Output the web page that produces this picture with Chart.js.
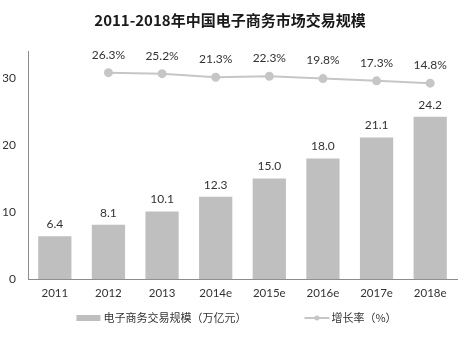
<!DOCTYPE html>
<html>
<head>
<meta charset="utf-8">
<script src="https://cdn.jsdelivr.net/npm/chart.js@4/dist/chart.umd.min.js"></script>
<style>
  html, body { margin: 0; padding: 0; background: #fff; }
  #wrap { width: 465px; height: 341px; }
</style>
</head>
<body>
<div id="wrap"><canvas id="ecChart"></canvas></div>
<script>
// Market size and growth, 2011-2018
const years = ['2011', '2012', '2013', '2014e', '2015e', '2016e', '2017e', '2018e'];
const marketSize = [6.4, 8.1, 10.1, 12.3, 15.0, 18.0, 21.1, 24.2];
const growthRate = [null, 26.3, 25.2, 21.3, 22.3, 19.8, 17.3, 14.8];
const sizeTicks = [0, 10, 20, 30];

const numFont = 'Lato, "Noto Sans CJK SC", sans-serif';
const cjkFont = '"Noto Sans CJK SC", sans-serif';

// value labels above bars and points
const valueLabels = {
    id: 'valueLabels',
    afterDatasetsDraw(chart) {
        const ctx = chart.ctx;
        ctx.save();
        ctx.font = '12px ' + numFont;
        ctx.fillStyle = '#333';
        ctx.textAlign = 'center';
        ctx.textBaseline = 'middle';
        chart.getDatasetMeta(0).data.forEach((bar, i) => {
            ctx.fillText(marketSize[i].toFixed(1), bar.x, bar.y - 12);
        });
        chart.getDatasetMeta(1).data.forEach((pt, i) => {
            if (growthRate[i] == null) return;
            ctx.fillText(growthRate[i].toFixed(1) + '%', pt.x, pt.y - 18);
        });
        ctx.restore();
    }
};

// bottom legend: grey box for bars, line with dot for growth
const bottomLegend = {
    id: 'bottomLegend',
    afterDraw(chart) {
        const ctx = chart.ctx;
        const y = 318;
        const t1 = '电子商务交易规模（万亿元）';
        const t2 = '增长率（%）';
        ctx.save();
        ctx.font = '11px ' + cjkFont;
        const w1 = 24 + 3 + ctx.measureText(t1).width;
        const w2 = 25 + 2 + ctx.measureText(t2).width;
        const gap = 58;
        let x = (chart.width - (w1 + gap + w2)) / 2 + 4;
        ctx.fillStyle = '#bfbfbf';
        ctx.fillRect(x, y - 3, 24, 6);
        ctx.fillStyle = '#333';
        ctx.textBaseline = 'middle';
        ctx.textAlign = 'left';
        ctx.fillText(t1, x + 27, y);
        x += w1 + gap;
        ctx.strokeStyle = '#c6c6c6';
        ctx.lineWidth = 2;
        ctx.beginPath();
        ctx.moveTo(x, y);
        ctx.lineTo(x + 25, y);
        ctx.stroke();
        ctx.fillStyle = '#c6c6c6';
        ctx.beginPath();
        ctx.arc(x + 12.5, y, 2.5, 0, Math.PI * 2);
        ctx.fill();
        ctx.fillStyle = '#333';
        ctx.fillText(t2, x + 27, y);
        ctx.restore();
    }
};

new Chart(document.getElementById('ecChart'), {
    data: {
        labels: years,
        datasets: [{
            type: 'bar',
            label: '电子商务交易规模（万亿元）',
            data: marketSize,
            backgroundColor: '#bfbfbf',
            barPercentage: 0.62,
            categoryPercentage: 1.0,
            yAxisID: 'y',
            order: 2
        }, {
            type: 'line',
            label: '增长率（%）',
            data: growthRate,
            borderColor: '#c6c6c6',
            backgroundColor: '#c6c6c6',
            borderWidth: 2,
            pointRadius: 3.5,
            pointHoverRadius: 3.5,
            tension: 0,
            yAxisID: 'y1',
            order: 1
        }]
    },
    options: {
        responsive: true,
        maintainAspectRatio: false,
        animation: false,
        layout: { padding: { left: 3, right: 8, bottom: 34 } },
        plugins: {
            legend: { display: false },
            tooltip: { enabled: false },
            title: {
                display: true,
                text: '2011-2018年中国电子商务市场交易规模',
                color: '#1a1a1a',
                font: { family: cjkFont, size: 15, weight: 'bold' },
                padding: { top: 11, bottom: 22 }
            }
        },
        scales: {
            x: {
                grid: { display: false, drawTicks: false },
                border: { color: '#8c8c8c', width: 1 },
                ticks: { color: '#333', font: { family: numFont, size: 11.5 }, padding: 7 }
            },
            y: {
                min: 0,
                max: 34,
                grid: { display: false, drawTicks: false },
                border: { color: '#8c8c8c', width: 1 },
                afterBuildTicks: axis => { axis.ticks = sizeTicks.map(v => ({ value: v })); },
                afterFit: axis => { axis.width = 25; },
                ticks: { color: '#333', font: { family: numFont, size: 12 }, padding: 12 }
            },
            y1: {
                display: false,
                position: 'right',
                min: -200,
                max: 50
            }
        }
    },
    plugins: [valueLabels, bottomLegend]
});
</script>
</body>
</html>
